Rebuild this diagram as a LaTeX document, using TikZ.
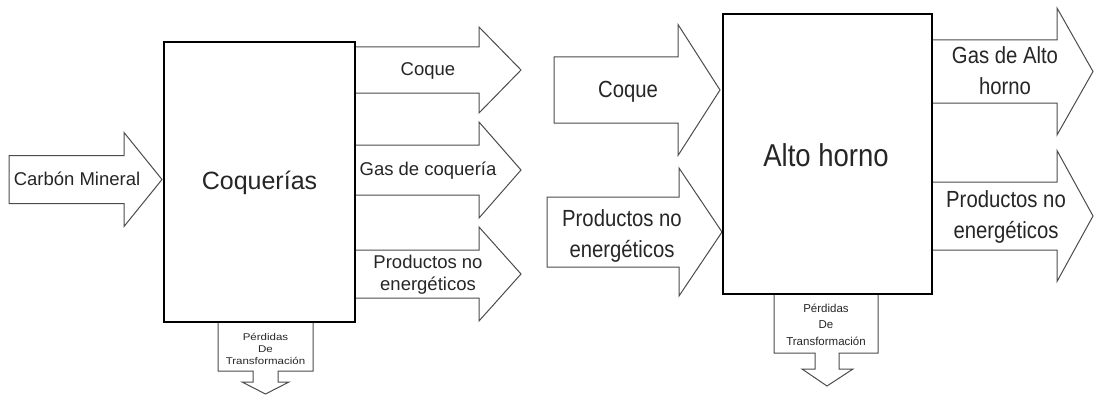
\documentclass[tikz,border=0pt]{standalone}
\usepackage{fontspec}
\setmainfont{Liberation Sans}
\usepackage{graphicx}
\newcommand{\fsz}[2]{\fontsize{#1}{#2}\selectfont}
\newcommand{\vst}[2]{\scalebox{1}[#1]{#2}}
\newcommand{\blockR}[6]{% x0,x1,x2,yc,bodyhalf,headhalf
  \draw[blockarrow] (#1,{#4-#5}) -- (#2,{#4-#5}) -- (#2,{#4-#6}) -- (#3,#4)
    -- (#2,{#4+#6}) -- (#2,{#4+#5}) -- (#1,{#4+#5}) -- cycle;}
\tikzset{
  blockarrow/.style={draw=black!70, line width=1pt, fill=white, line join=miter},
  procbox/.style={draw=black, line width=2.6pt, fill=white, inner sep=0pt},
  lbl/.style={inner sep=0pt, align=center, text=black!85},
}
\begin{document}
\begin{tikzpicture}[x=1pt,y=-1pt]
\useasboundingbox (0,0) rectangle (1094,396);
% ---------- left: Coquerias ----------
\blockR{9}{124}{162}{179.5}{24}{47}
\blockR{355}{479}{521}{70}{23}{43}
\blockR{355}{479}{521}{170}{25}{48}
\blockR{355}{479}{521}{274}{24}{47}
\draw[blockarrow] (218,322) -- (218,371) -- (253,371) -- (253,382) -- (242,382)
  -- (265.5,394) -- (289,382) -- (278,382) -- (278,371) -- (313,371) -- (313,322) -- cycle;
\node[procbox, minimum width=191pt, minimum height=280pt] (coq) at (259.5,182) {};
\node[lbl, font=\fsz{25}{30}] (coqt) at (259.5,183) {Coquerías};
\node[lbl, font=\fsz{18.5}{22}] (carbon) at (77,179) {Carbón Mineral};
\node[lbl, font=\fsz{18.5}{22}] (coque1) at (428,71) {Coque};
\node[lbl, font=\fsz{18.5}{22}] (gascoq) at (428,171) {Gas de coquería};
\node[lbl, font=\fsz{18.5}{22}] (prod1) at (428,275) {Productos no\\energéticos};
\node[lbl] (perd1) at (265.5,350) {\vst{0.85}{\fsz{11.5}{14.7}\begin{tabular}{@{}c@{}}Pérdidas\\De\\Transformación\end{tabular}}};
% ---------- right: Alto horno ----------
\blockR{554}{678}{720}{90}{33}{65.5}
\blockR{547}{679}{722}{232}{35}{64}
\blockR{932}{1057}{1093}{71.5}{31.5}{63.5}
\blockR{932}{1057}{1093}{216}{34}{65.5}
\draw[blockarrow] (774,294) -- (774,353) -- (815,353) -- (815,369) -- (802,369)
  -- (827,386) -- (853,369) -- (839,369) -- (839,353) -- (878,353) -- (878,294) -- cycle;
\node[procbox, minimum width=209pt, minimum height=280pt] (ah) at (827.5,154) {};
\node[lbl] (aht) at (826,155) {\vst{1.15}{\fsz{27.5}{33}Alto horno}};
\node[lbl] (coque2) at (628,92) {\vst{1.15}{\fsz{20.3}{27}Coque}};
\node[lbl] (prod2) at (622,236) {\vst{1.15}{\fsz{20.3}{27}\begin{tabular}{@{}c@{}}Productos no\\energéticos\end{tabular}}};
\node[lbl] (gasah) at (1005,73) {\vst{1.15}{\fsz{20.3}{27}\begin{tabular}{@{}c@{}}Gas de Alto\\horno\end{tabular}}};
\node[lbl] (prod3) at (1006,217) {\vst{1.15}{\fsz{20.3}{27}\begin{tabular}{@{}c@{}}Productos no\\energéticos\end{tabular}}};
\node[lbl] (perd2) at (826,325.5) {\fsz{11.5}{16.5}\begin{tabular}{@{}c@{}}Pérdidas\\De\\Transformación\end{tabular}};
\end{tikzpicture}
\end{document}
